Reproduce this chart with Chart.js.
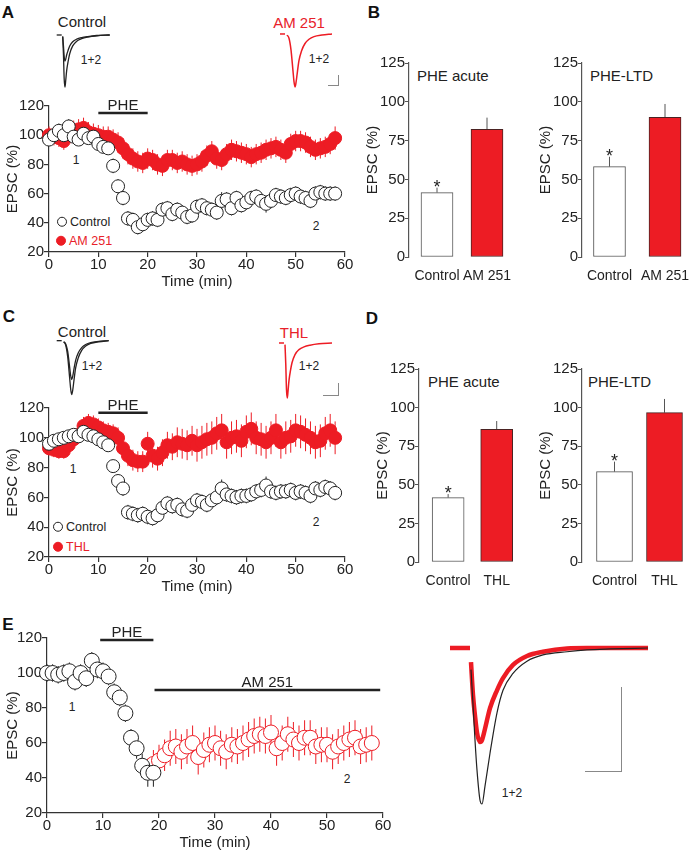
<!DOCTYPE html>
<html>
<head>
<meta charset="utf-8">
<script src="https://cdn.jsdelivr.net/npm/chart.js@4.4.1/dist/chart.umd.min.js"></script>
<style>
  body { margin: 0; background: #fff; }
  #fig { position: relative; width: 698px; height: 853px; overflow: hidden; font-family: "Liberation Sans", Arial, sans-serif; color: #222; }
  #fig canvas { position: absolute; }
  .t { position: absolute; transform: translate(-50%, -50%); white-space: nowrap; font-size: 15px; line-height: 1; color: #222; }
  .l { position: absolute; transform: translateY(-50%); white-space: nowrap; font-size: 12.5px; line-height: 1; color: #222; }
  .panel { font-weight: bold; font-size: 17px; color: #111; }
  .red { color: #e8212a; }
  .small { font-size: 12px; }
  .scalebar { position: absolute; border-right: 1px solid #888; border-bottom: 1px solid #888; }
  .dot { display: inline-block; width: 10px; height: 10px; border-radius: 50%; border: 1px solid #222; box-sizing: border-box; vertical-align: -1px; margin-right: 3px; background: #fff; }
  .dot.fill { background: #ed1c24; border-color: #ed1c24; }
</style>
</head>
<body>
<div id="fig">
  <div class="t panel" style="left:8px;top:12px">A</div>
  <div class="t panel" style="left:374px;top:12px">B</div>
  <div class="t panel" style="left:9px;top:316px">C</div>
  <div class="t panel" style="left:372px;top:318px">D</div>
  <div class="t panel" style="left:8px;top:624px">E</div>

  <div class="t" style="left:82px;top:21px">Control</div>
  <div class="t red" style="left:299px;top:22px">AM 251</div>
  <div class="t small" style="left:91px;top:60px">1+2</div>
  <div class="t small" style="left:319px;top:59px">1+2</div>
  <div class="scalebar" style="left:328px;top:75px;width:10px;height:10px"></div>

  <div class="t" style="left:82px;top:331px">Control</div>
  <div class="t red" style="left:294px;top:332px">THL</div>
  <div class="t small" style="left:92px;top:366px">1+2</div>
  <div class="t small" style="left:309px;top:366px">1+2</div>
  <div class="scalebar" style="left:323px;top:383px;width:15px;height:12px"></div>

  <div class="t small" style="left:76px;top:160px">1</div>
  <div class="t small" style="left:316px;top:226px">2</div>
  <div class="t small" style="left:73px;top:469px">1</div>
  <div class="t small" style="left:316px;top:522px">2</div>
  <div class="t small" style="left:72px;top:707px">1</div>
  <div class="t small" style="left:347px;top:779px">2</div>
  <div class="t small" style="left:512px;top:793px">1+2</div>
  <div class="scalebar" style="left:585px;top:687px;width:36px;height:84px"></div>

  <div class="l" style="left:57px;top:222px"><span class="dot"></span>Control</div>
  <div class="l red" style="left:56px;top:241px"><span class="dot fill"></span>AM 251</div>
  <div class="l" style="left:53px;top:527px"><span class="dot"></span>Control</div>
  <div class="l red" style="left:53px;top:547px"><span class="dot fill"></span>THL</div>

  <div class="l" style="left:417px;top:75px;font-size:15px">PHE acute</div>
  <div class="l" style="left:590px;top:75px;font-size:15px">PHE-LTD</div>
  <div class="l" style="left:428px;top:381px;font-size:15px">PHE acute</div>
  <div class="l" style="left:588px;top:381px;font-size:15px">PHE-LTD</div>
</div>
<script>
// time axis (min), one sweep per minute
const minutes = [0,1,2,3,4,5,6,7,8,9,10,11,12,13,14,15,16,17,18,19,20,21,22,23,24,25,26,27,28,29,
  30,31,32,33,34,35,36,37,38,39,40,41,42,43,44,45,46,47,48,49,50,51,52,53,54,55,56,57,58];

// panel A
const ctrlA = [97,100,103,100,106,99,97,101,98,99, 94,92,91,79,65,57,43,42,37,39,
  42,43,42,49,50,46,49,47,44,45, 51,52,50,49,47,55,56,50,57,52,
  54,57,58,55,53,55,59,58,57,59, 60,58,57,55,60,61,60,60,60];
const ctrlAErr = [4,4,5,4,5,4,4,4,4,4, 4,4,4,5,5,5,5,5,5,5, 5,5,5,5,5,5,5,5,5,5,
  5,5,5,5,5,6,5,5,5,5, 5,5,5,5,6,5,5,5,5,5, 5,5,5,5,5,5,5,5,5];
const am251A = [100,99,98,96,101,103,104,105,102,101, 100,99,99,97,95,91,87,84,82,81,
  84,83,80,79,83,83,81,82,80,79, 80,82,86,89,84,83,87,90,89,88,
  87,85,87,88,90,91,92,90,88,94, 96,96,95,92,90,91,92,94,98];
const am251AErr = [6,6,6,6,7,7,7,7,7,7, 7,7,7,7,7,7,7,7,7,7, 7,7,7,7,7,7,7,7,7,7,
  7,7,7,7,7,7,7,7,7,7, 7,7,7,7,7,7,7,7,7,7, 7,7,7,7,7,7,7,7,8];

// panel C
const ctrlC = [96,98,99,100,101,102,101,104,102,101, 99,97,95,81,71,66,50,49,48,49,
  47,46,48,53,56,54,55,52,51,55, 58,57,55,58,60,66,62,61,60,61,
  61,62,64,65,68,64,63,64,64,65, 63,64,63,61,66,65,67,66,63];
const ctrlCErr = [4,4,4,4,4,4,4,4,4,4, 4,4,4,4,4,5,5,5,5,5, 5,5,5,5,5,5,5,5,5,5,
  5,5,5,5,5,6,5,5,5,5, 5,5,5,5,6,5,5,5,5,5, 5,5,5,5,5,5,5,5,5];
const thlC = [93,92,91,91,95,99,102,108,110,109, 107,105,104,103,100,93,88,85,84,84,
  96,88,86,90,95,94,97,96,95,98, 95,97,99,100,103,105,97,100,101,98,
  104,106,100,99,97,100,105,97,100,101, 105,104,102,100,97,98,103,105,100];
const thlCErr = [5,5,5,5,5,6,6,6,6,6, 6,6,6,6,7,7,7,7,7,7, 8,8,8,9,9,9,10,10,10,10,
  11,11,11,11,11,11,11,11,11,11, 11,11,11,11,11,11,11,11,11,11, 11,11,11,11,11,11,11,11,11];

// panel E
const minutesE1 = [0,1,2,3,4,5,6,7,8,9,10,11,12,13,14,15,16,17,18,19];
const ctrlE = [100,100,99,100,101,95,100,97,107,102,101,98,89,86,77,63,57,47,43,43];
const ctrlEErr = [5,5,5,5,5,5,5,5,5,5,5,5,5,5,5,5,6,7,8,8];
const minutesE2 = [19,20,21,22,23,24,25,26,27,28,29,30,31,32,33,34,35,36,37,38,
  39,40,41,42,43,44,45,46,47,48,49,50,51,52,53,54,55,56,57,58];
const am251E = [48,50,53,57,58,55,58,60,52,56, 59,60,57,55,59,58,60,62,64,65,
  64,66,57,60,65,62,60,63,63,58, 59,59,55,58,60,62,63,58,59,60];
const am251EErr = [8,9,9,10,10,10,10,10,10,10, 10,10,10,10,10,10,10,10,10,10,
  10,10,10,10,10,10,10,10,10,10, 10,10,10,10,10,10,10,10,10,10];

// bar panels B and D
const groupsAM = ['Control', 'AM 251'];
const groupsTHL = ['Control', 'THL'];
const acuteAM = [41.5, 82.3];
const acuteAMErr = [3.2, 7.5];
const ltdAM = [58.2, 90];
const ltdAMErr = [6.4, 8.6];
const acuteTHL = [41.7, 86];
const acuteTHLErr = [2.3, 5.3];
const ltdTHL = [58.5, 96.7];
const ltdTHLErr = [6.5, 8.9];
const sig = ['*', ''];

// example EPSC traces (ms, normalised amplitude)
const baseT = [0, 5];
const baseV = [0, 0];
const fastT = [6, 6.8, 7.5, 8.3, 9, 10, 11.5, 13, 16, 20, 25, 31, 40, 53];
const fastBig = [-0.03, -0.4, -0.85, -1, -0.88, -0.68, -0.5, -0.36, -0.21, -0.12, -0.07, -0.04, -0.015, 0];
const fastSmall = [-0.03, -0.22, -0.42, -0.5, -0.47, -0.38, -0.29, -0.21, -0.13, -0.08, -0.05, -0.03, -0.01, 0];
const slowT = [7, 9, 11, 13, 14, 15, 16, 17.5, 19, 21.5, 25, 29, 34, 42, 52];
const slowBig = [-0.02, -0.08, -0.3, -0.7, -0.9, -1, -0.92, -0.7, -0.5, -0.32, -0.18, -0.1, -0.05, -0.02, 0];
const slowSmall = [-0.02, -0.06, -0.2, -0.5, -0.65, -0.72, -0.66, -0.5, -0.36, -0.23, -0.13, -0.07, -0.035, -0.015, 0];
const eBaseT = [0, 20];
const eT = [21, 23, 25, 27, 30, 32, 35, 40, 47, 53, 63, 77, 93, 117, 137, 160, 198];
const eRed = [-0.15, -0.5, -0.72, -0.9, -1, -0.98, -0.86, -0.64, -0.45, -0.32, -0.18, -0.085, -0.04, -0.005, 0, 0, 0];
const eBlack = [-0.23, -0.6, -0.98, -1.3, -1.62, -1.66, -1.47, -1.12, -0.69, -0.45, -0.27, -0.14, -0.074, -0.04, -0.02, -0.01, 0];

const RED = '#ed1c24';
const INK = '#222';
const FONT = '"Liberation Sans", Arial, sans-serif';

Chart.defaults.font.family = FONT;
Chart.defaults.color = INK;

const fig = document.getElementById('fig');

function addCanvas(box) {
  const c = document.createElement('canvas');
  c.width = box.width;
  c.height = box.height;
  c.style.left = box.left + 'px';
  c.style.top = box.top + 'px';
  c.style.width = box.width + 'px';
  c.style.height = box.height + 'px';
  fig.appendChild(c);
  return c;
}

// keep the plot area where the layout box says, no label overhang padding
const fixHeight = (h) => (s) => { s.height = h; s.paddingLeft = 0; s.paddingRight = 0; };
const fixWidth = (w) => (s) => { s.width = w; s.paddingTop = 0; s.paddingBottom = 0; };

// error bars drawn behind the markers
const errorBars = {
  id: 'errorBars',
  beforeDatasetsDraw(chart) {
    const { ctx } = chart;
    const ys = chart.scales.y;
    chart.data.datasets.forEach((ds, i) => {
      if (!ds.errors) return;
      const meta = chart.getDatasetMeta(i);
      ctx.save();
      ctx.strokeStyle = ds.errorColor;
      ctx.lineWidth = 1;
      meta.data.forEach((el, j) => {
        const v = ds.data[j].y;
        const e = ds.errors[j];
        const top = ys.getPixelForValue(v + e);
        const bottom = ys.getPixelForValue(ds.upOnly ? v : v - e);
        ctx.beginPath();
        ctx.moveTo(el.x, top);
        ctx.lineTo(el.x, bottom);
        ctx.stroke();
      });
      ctx.restore();
    });
  },
};

const sigMarks = {
  id: 'sigMarks',
  afterDatasetsDraw(chart) {
    const { ctx } = chart;
    const ys = chart.scales.y;
    chart.data.datasets.forEach((ds, i) => {
      if (!ds.marks) return;
      chart.getDatasetMeta(i).data.forEach((el, j) => {
        if (!ds.marks[j]) return;
        const py = ys.getPixelForValue(ds.data[j].y + ds.errors[j]);
        ctx.save();
        ctx.fillStyle = INK;
        ctx.font = '18px ' + FONT;
        ctx.textAlign = 'center';
        ctx.textBaseline = 'alphabetic';
        ctx.fillText(ds.marks[j], el.x, py + 5);
        ctx.restore();
      });
    });
  },
};

// drug application bars (PHE, AM 251)
const drugBars = {
  id: 'drugBars',
  afterDatasetsDraw(chart, args, opts) {
    const { ctx, scales: { x, y } } = chart;
    (opts.bars || []).forEach((b) => {
      const x0 = x.getPixelForValue(b.from);
      const x1 = x.getPixelForValue(b.to);
      const py = y.getPixelForValue(b.at);
      ctx.save();
      ctx.strokeStyle = INK;
      ctx.lineWidth = 2.5;
      ctx.beginPath();
      ctx.moveTo(x0, py);
      ctx.lineTo(x1, py);
      ctx.stroke();
      ctx.fillStyle = INK;
      ctx.font = '15px ' + FONT;
      ctx.textAlign = 'center';
      ctx.textBaseline = 'alphabetic';
      ctx.fillText(b.label, (x0 + x1) / 2, py - 3);
      ctx.restore();
    });
  },
};

const noChrome = { legend: { display: false }, tooltip: { enabled: false } };

function timeChart(box, series, bars) {
  return new Chart(addCanvas(box), {
    type: 'scatter',
    data: {
      datasets: series.map((s) => ({
        data: s.x.map((x, i) => ({ x, y: s.y[i] })),
        errors: s.err,
        errorColor: s.color,
        pointRadius: s.r,
        pointBackgroundColor: s.fill,
        pointBorderColor: s.color,
        pointBorderWidth: 1,
        showLine: false,
        clip: false,
      })),
    },
    options: {
      animation: false,
      responsive: false,
      events: [],
      layout: { padding: { top: box.padTop, right: box.padRight, left: 0, bottom: 0 } },
      plugins: { ...noChrome, drugBars: { bars } },
      scales: {
        x: {
          type: 'linear', min: 0, max: 60,
          ticks: { stepSize: 10, font: { size: 15 }, padding: -1, maxRotation: 0 },
          grid: { drawOnChartArea: false, tickLength: 5, color: '#333', lineWidth: 1.2 },
          border: { color: '#333', width: 1.2 },
          title: { display: true, text: 'Time (min)', font: { size: 15 }, padding: { top: 0, bottom: 1 } },
          afterFit: fixHeight(box.xHeight),
        },
        y: {
          min: 20, max: 120,
          ticks: { stepSize: 20, font: { size: 15 }, padding: 0 },
          grid: { drawOnChartArea: false, tickLength: 5, color: '#333', lineWidth: 1.2 },
          border: { color: '#333', width: 1.2 },
          title: { display: true, text: 'EPSC (%)', font: { size: 15 } },
          afterFit: fixWidth(box.yWidth),
        },
      },
    },
    plugins: [errorBars, drugBars],
  });
}

function barChart(box, groups, values, errors) {
  return new Chart(addCanvas(box), {
    type: 'bar',
    data: {
      datasets: [{
        data: values.map((v, i) => ({ x: i, y: v })),
        errors,
        marks: sig,
        errorColor: '#555',
        upOnly: true,
        backgroundColor: ['#ffffff', RED],
        borderColor: ['#555', '#4a2222'],
        borderWidth: 1,
        borderSkipped: false,
        barThickness: box.bar,
      }],
    },
    options: {
      animation: false,
      responsive: false,
      events: [],
      layout: { padding: { top: box.padTop, right: box.padRight, left: 0, bottom: 0 } },
      plugins: noChrome,
      scales: {
        x: {
          type: 'linear', min: box.xmin, max: box.xmax, offset: false,
          afterBuildTicks: (s) => { s.ticks = groups.map((_, i) => ({ value: i })); },
          ticks: { callback: (v) => groups[v], font: { size: 14 }, padding: 3, maxRotation: 0, autoSkip: false },
          grid: { display: false },
          border: { display: false },
          afterFit: fixHeight(box.xHeight),
        },
        y: {
          min: 0, max: 125,
          ticks: { stepSize: 25, font: { size: 15 }, padding: 0 },
          grid: { drawOnChartArea: false, tickLength: 4, color: '#555' },
          border: { color: '#555', width: 1.2 },
          title: { display: true, text: 'EPSC (%)', font: { size: 15 } },
          afterFit: fixWidth(box.yWidth),
        },
      },
    },
    plugins: [errorBars, sigMarks],
  });
}

function traceChart(box, lines) {
  return new Chart(addCanvas(box), {
    type: 'line',
    data: {
      datasets: lines.map((l) => ({
        data: l.t.map((t, i) => ({ x: t, y: l.v[i] })),
        borderColor: l.color,
        borderWidth: l.w,
        pointRadius: 0,
        cubicInterpolationMode: 'monotone',
        fill: false,
        clip: false,
      })),
    },
    options: {
      animation: false,
      responsive: false,
      events: [],
      layout: { padding: 0 },
      plugins: noChrome,
      scales: {
        x: { type: 'linear', display: false, min: box.xmin, max: box.xmax },
        y: { display: false, min: box.ymin, max: box.ymax },
      },
    },
  });
}

// A
timeChart(
  { left: 0, top: 95, width: 355, height: 197, padTop: 11, padRight: 10, yWidth: 49, xHeight: 40 },
  [
    { x: minutes, y: ctrlA, err: ctrlAErr, color: INK, fill: '#fff', r: 6.5 },
    { x: minutes, y: am251A, err: am251AErr, color: RED, fill: RED, r: 6.5 },
  ],
  [{ from: 10, to: 20, at: 115.2, label: 'PHE' }]
);
traceChart({ left: 55, top: 30, width: 57, height: 62, xmin: -1.7, xmax: 55.3, ymin: -1.096, ymax: 0.096 }, [
  { t: baseT, v: baseV, color: INK, w: 1.3 },
  { t: fastT, v: fastBig, color: INK, w: 1.3 },
  { t: fastT, v: fastSmall, color: INK, w: 1.3 },
]);
traceChart({ left: 278, top: 29, width: 56, height: 62, xmin: -2, xmax: 54, ymin: -1.076, ymax: 0.094 }, [
  { t: baseT, v: baseV, color: RED, w: 1.5 },
  { t: slowT, v: slowBig, color: RED, w: 1.5 },
]);

// B
barChart({ left: 360, top: 52, width: 155, height: 232, padTop: 11, padRight: 6, yWidth: 49, xHeight: 27,
  xmin: -0.56, xmax: 1.44, bar: 32 }, groupsAM, acuteAM, acuteAMErr);
barChart({ left: 533, top: 52, width: 161, height: 232, padTop: 11, padRight: 4, yWidth: 49, xHeight: 27,
  xmin: -0.495, xmax: 1.45, bar: 32 }, groupsAM, ltdAM, ltdAMErr);

// C
timeChart(
  { left: 0, top: 397, width: 355, height: 200, padTop: 11, padRight: 10, yWidth: 49, xHeight: 40 },
  [
    { x: minutes, y: ctrlC, err: ctrlCErr, color: INK, fill: '#fff', r: 6.5 },
    { x: minutes, y: thlC, err: thlCErr, color: RED, fill: RED, r: 6.5 },
  ],
  [{ from: 10, to: 20, at: 116.8, label: 'PHE' }]
);
traceChart({ left: 55, top: 335, width: 57, height: 65, xmin: -1.7, xmax: 55.3, ymin: -1.099, ymax: 0.105 }, [
  { t: baseT, v: baseV, color: INK, w: 1.3 },
  { t: slowT, v: slowBig, color: INK, w: 1.3 },
  { t: slowT, v: slowSmall, color: INK, w: 1.3 },
]);
traceChart({ left: 277, top: 337, width: 56, height: 66, xmin: -2, xmax: 54, ymin: -1.091, ymax: 0.109 }, [
  { t: baseT, v: baseV, color: RED, w: 1.5 },
  { t: fastT, v: fastBig, color: RED, w: 1.5 },
]);

// D
barChart({ left: 370, top: 358, width: 155, height: 231, padTop: 11, padRight: 5, yWidth: 49, xHeight: 27,
  xmin: -0.6, xmax: 1.48, bar: 32 }, groupsTHL, acuteTHL, acuteTHLErr);
barChart({ left: 533, top: 358, width: 161, height: 231, padTop: 11, padRight: 4, yWidth: 49, xHeight: 27,
  xmin: -0.65, xmax: 1.51, bar: 36 }, groupsTHL, ltdTHL, ltdTHLErr);

// E
timeChart(
  { left: 0, top: 627, width: 393, height: 226, padTop: 11, padRight: 10, yWidth: 47, xHeight: 40 },
  [
    { x: minutesE1, y: ctrlE, err: ctrlEErr, color: INK, fill: '#fff', r: 7.5 },
    { x: minutesE2, y: am251E, err: am251EErr, color: RED, fill: '#fff', r: 7.5 },
  ],
  [
    { from: 9.5, to: 19, at: 118.9, label: 'PHE' },
    { from: 19.2, to: 59.5, at: 90.3, label: 'AM 251' },
  ]
);
traceChart({ left: 445, top: 640, width: 210, height: 175, xmin: -5, xmax: 205, ymin: -1.777, ymax: 0.085 }, [
  { t: eT, v: eBlack, color: INK, w: 1.2 },
  { t: eBaseT, v: baseV, color: RED, w: 4.5 },
  { t: eT, v: eRed, color: RED, w: 4.5 },
]);
</script>
</body>
</html>
